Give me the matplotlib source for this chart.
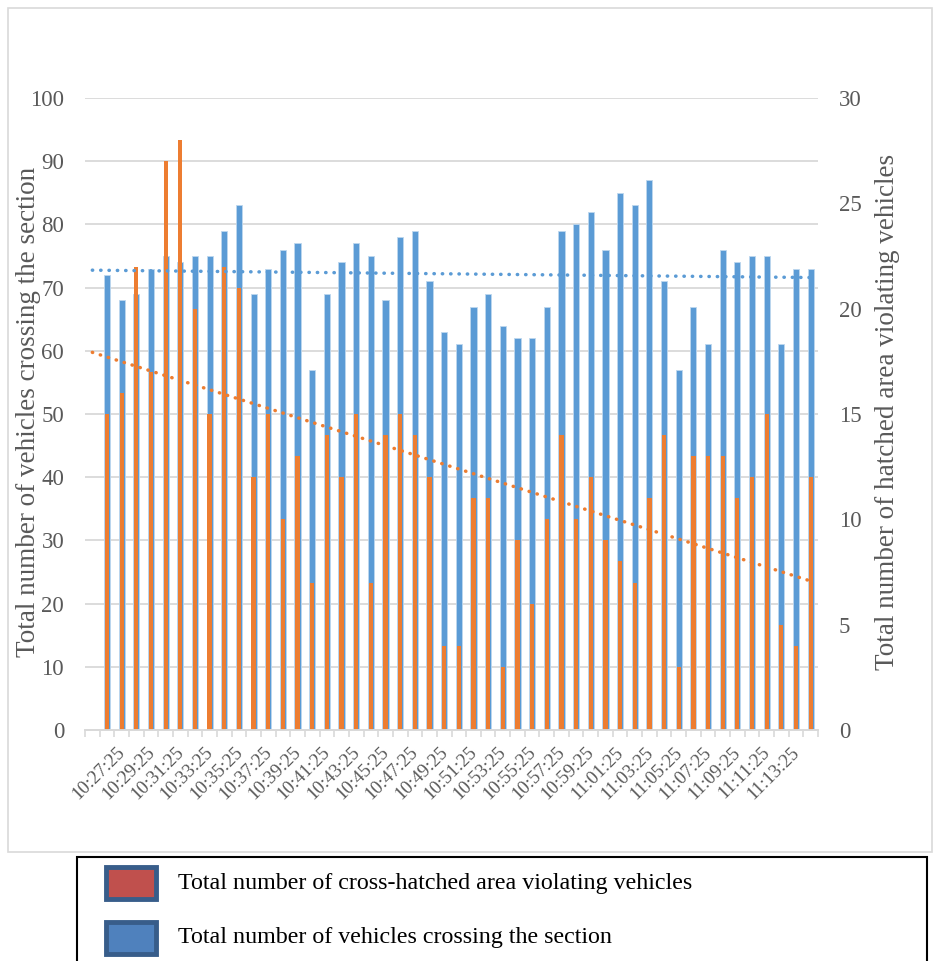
#!/usr/bin/env python3

import numpy as np
import matplotlib
matplotlib.use("Agg")
import matplotlib.pyplot as plt
import matplotlib.transforms as mtransforms
from matplotlib.patches import Rectangle

# categories: the first slot on the axis is empty
times = ['',
         '10:26:25', '10:27:25', '10:28:25', '10:29:25', '10:30:25', '10:31:25', '10:32:25',
         '10:33:25', '10:34:25', '10:35:25', '10:36:25', '10:37:25', '10:38:25', '10:39:25',
         '10:40:25', '10:41:25', '10:42:25', '10:43:25', '10:44:25', '10:45:25', '10:46:25',
         '10:47:25', '10:48:25', '10:49:25', '10:50:25', '10:51:25', '10:52:25', '10:53:25',
         '10:54:25', '10:55:25', '10:56:25', '10:57:25', '10:58:25', '10:59:25', '11:00:25',
         '11:01:25', '11:02:25', '11:03:25', '11:04:25', '11:05:25', '11:06:25', '11:07:25',
         '11:08:25', '11:09:25', '11:10:25', '11:11:25', '11:12:25', '11:13:25', '11:14:25']

# total vehicles crossing the section (left axis)
total_vehicles = [72, 68, 69, 73, 75, 74, 75, 75, 79, 83, 69, 73, 76, 77, 57, 69,
                  74, 77, 75, 68, 78, 79, 71, 63, 61, 67, 69, 64, 62, 62, 67, 79, 80,
                  82, 76, 85, 83, 87, 71, 57, 67, 61, 76, 74, 75, 75, 61, 73, 73]

# cross-hatched area violating vehicles (right axis)
violating = [15, 16, 22, 17, 27, 28, 20, 15, 22, 21, 12, 15, 10, 13, 7, 14,
             12, 15, 7, 14, 15, 14, 12, 4, 4, 11, 11, 3, 9, 6, 10, 14, 10,
             12, 9, 8, 7, 11, 14, 3, 13, 13, 13, 11, 12, 15, 5, 4, 12]

BLUE = '#5B9BD5'
ORANGE = '#ED7D31'
GRID = '#D9D9D9'
TXT = '#595959'
SERIF = ['Liberation Serif', 'DejaVu Serif']

plt.rcParams['font.family'] = SERIF

W, H = 939, 961
fig = plt.figure(figsize=(W / 100, H / 100), dpi=100)

# chart area border
fig.patches.append(Rectangle((8 / W, 1 - 852 / H), (932 - 8) / W, (852 - 8) / H,
                             transform=fig.transFigure, fill=False,
                             edgecolor=GRID, linewidth=1.2))

ax1 = fig.add_axes([85 / W, 1 - 730 / H, (818 - 85) / W, (730 - 98) / H])
ax2 = ax1.twinx()

x_all = np.arange(len(times))
x = x_all[1:]

ax1.bar(x, total_vehicles, width=0.42, color=BLUE, edgecolor='#BDD7EE',
        linewidth=0.6, zorder=2)
ax2.bar(x, violating, width=0.29, color=ORANGE, zorder=2)

# linear trend lines over the whole category range
pb = np.polyfit(x, total_vehicles, 1)
po = np.polyfit(x, violating, 1)
dots = (0, (0.1, 2.3))
ax2.plot(x_all, np.polyval(pb, x_all), transform=ax1.transData, color=BLUE,
         linewidth=2.5, linestyle=dots, dash_capstyle='round', zorder=5)
ax2.plot(x_all, np.polyval(po, x_all), color=ORANGE, linewidth=2.5,
         linestyle=dots, dash_capstyle='round', zorder=5)

ax1.set_xlim(-0.5, len(times) - 0.5)
ax1.set_ylim(0, 100)
ax2.set_ylim(0, 30)
ax1.set_yticks(np.arange(0, 101, 10))
ax2.set_yticks(np.arange(0, 31, 5))

ax1.grid(axis='y', color=GRID, linewidth=1.3, zorder=0)
ax1.set_axisbelow(True)

for a in (ax1, ax2):
    for s in ('top', 'left', 'right'):
        a.spines[s].set_visible(False)
    a.spines['bottom'].set_color(GRID)
    a.spines['bottom'].set_linewidth(1.3)

ax1.tick_params(axis='y', length=0, pad=15, labelsize=16.5, labelcolor=TXT)
ax2.tick_params(axis='y', length=0, pad=15, labelsize=16.5, labelcolor=TXT)

ax1.set_xticks(x_all[::2])
ax1.set_xticklabels(times[::2], rotation=45, ha='right', va='top',
                    rotation_mode='anchor', fontsize=13.5, color=TXT)
ax1.set_xticks(np.arange(-0.5, len(times), 1), minor=True)
ax1.tick_params(axis='x', which='major', length=0, pad=10)
ax1.tick_params(axis='x', which='minor', length=5, color=GRID, width=1.2)

# nudge the rotated labels a little to the left, like the original
shift = mtransforms.ScaledTranslation(-5 / 100, 0, fig.dpi_scale_trans)
for lab in ax1.get_xticklabels():
    lab.set_transform(lab.get_transform() + shift)

fig.text(29 / W, 1 - 412 / H, 'Total number of vehicles crossing the section',
         rotation=90, ha='center', va='center', fontsize=19.5, color=TXT)
fig.text(888 / W, 1 - 412 / H, 'Total number of hatched area violating vehicles',
         rotation=90, ha='center', va='center', fontsize=19.5, color=TXT)

# legend box below the chart (runs off the bottom edge)
fig.patches.append(Rectangle((77 / W, -10 / H), (927 - 77) / W, (H - 857 + 10) / H,
                             transform=fig.transFigure, fill=False,
                             edgecolor='black', linewidth=1.5))
legend_items = [('#C0504D', 'Total number of cross-hatched area violating vehicles', 883),
                ('#4F81BD', 'Total number of vehicles crossing the section', 938)]
for fill, label, yc in legend_items:
    fig.patches.append(Rectangle((106 / W, 1 - (yc + 16) / H), 50 / W, 32 / H,
                                 transform=fig.transFigure, facecolor=fill,
                                 edgecolor='#385D8A', linewidth=3.5))
    fig.text(178 / W, 1 - yc / H, label, ha='left', va='center',
             fontsize=17.3, color='black')

fig.savefig('out.png', dpi=100)
